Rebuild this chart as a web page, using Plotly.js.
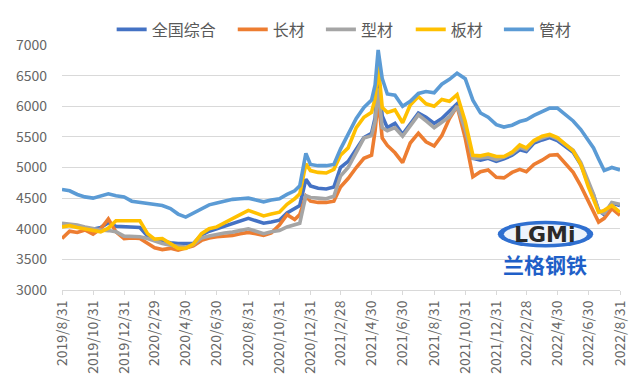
<!DOCTYPE html>
<html>
<head>
<meta charset="utf-8">
<script src="https://cdn.plot.ly/plotly-3.0.1.min.js"></script>
<style>
html,body{margin:0;padding:0;background:#fff;}
#chart{width:640px;height:389px;}
</style>
</head>
<body>
<div id="chart"></div>
<script>
const dates = [
'2019-08-31','2019-09-15','2019-09-30','2019-10-15','2019-10-31','2019-11-15','2019-11-30','2019-12-15','2019-12-31',
'2020-01-15','2020-01-31','2020-02-15','2020-02-29','2020-03-15','2020-03-31','2020-04-15','2020-04-30','2020-05-15','2020-05-31',
'2020-06-15','2020-06-30','2020-07-15','2020-07-31','2020-08-15','2020-08-31','2020-09-15','2020-09-30','2020-10-15','2020-10-31',
'2020-11-15','2020-11-30','2020-12-10','2020-12-22','2020-12-31',
'2021-01-15','2021-01-31','2021-02-15','2021-02-28','2021-03-15','2021-03-31','2021-04-15','2021-04-30','2021-05-07','2021-05-13','2021-05-21','2021-05-31',
'2021-06-15','2021-06-30','2021-07-15','2021-07-31','2021-08-15','2021-08-31','2021-09-15','2021-09-30','2021-10-15','2021-10-31',
'2021-11-15','2021-11-30','2021-12-15','2021-12-31',
'2022-01-15','2022-01-31','2022-02-15','2022-02-28','2022-03-15','2022-03-31','2022-04-15','2022-04-30','2022-05-15','2022-05-31',
'2022-06-15','2022-06-30','2022-07-10','2022-07-20','2022-07-31','2022-08-15','2022-08-31'
];

const zonghe = [4080,4060,4040,4020,3990,4020,4100,4040,4030,
4030,4020,3880,3820,3800,3770,3760,3760,3760,3900,
3960,4000,4040,4080,4120,4170,4130,4090,4110,4140,
4260,4330,4380,4810,4700,
4660,4650,4680,5000,5100,5300,5490,5560,5810,6530,5840,5650,
5720,5540,5700,5890,5820,5720,5800,5930,6040,5650,
5150,5120,5150,5100,
5140,5200,5290,5260,5400,5450,5490,5440,5340,5250,
5050,4720,4550,4300,4230,4420,4380];

const changcai = [3840,3960,3940,3980,3910,4000,4160,3950,3840,
3850,3840,3760,3690,3660,3680,3650,3680,3720,3810,
3850,3870,3880,3890,3920,3940,3920,3890,3930,4060,
4230,4150,4230,4530,4450,
4430,4430,4450,4680,4820,5000,5150,5200,5600,6120,5480,5360,
5240,5080,5400,5560,5420,5350,5520,5800,6000,5480,
4850,4930,4960,4840,
4830,4920,4970,4930,5050,5120,5200,5210,5080,4920,
4700,4450,4250,4110,4170,4330,4220];

const xingcai = [4090,4080,4060,4030,4000,3980,3970,3950,3880,
3870,3870,3840,3800,3760,3730,3710,3700,3740,3850,
3880,3910,3930,3945,3970,4000,3960,3920,3950,3970,
4030,4060,4090,4540,4510,
4500,4490,4530,4860,5000,5250,5480,5520,5750,6290,5650,5600,
5650,5510,5680,5860,5760,5650,5740,5830,6000,5620,
5150,5160,5170,5130,
5170,5230,5330,5290,5430,5480,5520,5470,5370,5280,
5080,4750,4560,4280,4250,4430,4400];

const bancai = [4030,4050,4020,4000,3980,3950,4010,4130,4130,
4130,4130,3920,3830,3840,3760,3680,3680,3750,3920,
4000,4030,4100,4170,4230,4300,4250,4210,4240,4270,
4400,4490,4570,5060,4950,
4920,4910,4970,5200,5320,5650,5820,5900,6130,6680,5980,5900,
5940,5730,6020,6160,6040,6000,6110,6080,6190,5750,
5200,5190,5220,5180,
5180,5250,5370,5320,5440,5510,5540,5490,5380,5270,
5050,4680,4480,4270,4300,4380,4270];

const guancai = [4640,4620,4560,4520,4500,4530,4570,4540,4520,
4450,4430,4420,4400,4380,4330,4240,4190,4250,4330,
4390,4420,4450,4480,4490,4500,4470,4440,4470,4490,
4560,4620,4700,5230,5050,
5030,5030,5050,5300,5550,5800,5980,6100,6350,6920,6450,6200,
6180,6000,6080,6210,6240,6220,6360,6440,6540,6450,
6100,5890,5820,5700,
5660,5690,5750,5780,5850,5910,5970,5970,5870,5760,
5620,5430,5320,5140,4950,5000,4960];

const seriesNames = ['全国综合','长材','型材','板材','管材'];
const seriesColors = ['#4472C4','#ED7D31','#A5A5A5','#FFC000','#5B9BD5'];
const seriesValues = [zonghe, changcai, xingcai, bancai, guancai];

const tickDates = ['2019-08-31','2019-10-31','2019-12-31','2020-02-29','2020-04-30','2020-06-30','2020-08-31','2020-10-31','2020-12-31',
'2021-02-28','2021-04-30','2021-06-30','2021-08-31','2021-10-31','2021-12-31','2022-02-28','2022-04-30','2022-06-30','2022-08-31'];
const tickLabels = ['2019/8/31','2019/10/31','2019/12/31','2020/2/29','2020/4/30','2020/6/30','2020/8/31','2020/10/31','2020/12/31',
'2021/2/28','2021/4/30','2021/6/30','2021/8/31','2021/10/31','2021/12/31','2022/2/28','2022/4/30','2022/6/30','2022/8/31'];

const FONT = '"Noto Sans CJK SC", "Noto Sans", sans-serif';
const legendIds = ['legend','legend2','legend3','legend4','legend5'];
const legendX = [0.089, 0.306, 0.464, 0.625, 0.783];

const traces = seriesNames.map((n, i) => ({
  type: 'scatter', mode: 'lines', name: n,
  x: dates, y: seriesValues[i],
  legend: legendIds[i],
  line: {color: seriesColors[i], width: 3.6}
}));

const layout = {
  width: 640, height: 389,
  margin: {l: 62, r: 20, t: 43, b: 99},
  paper_bgcolor: '#ffffff', plot_bgcolor: '#ffffff',
  font: {family: FONT, color: '#595959', size: 12},
  showlegend: true,
  xaxis: {
    type: 'date', range: ['2019-08-31', '2022-08-31'],
    tickmode: 'array', tickvals: tickDates, ticktext: tickLabels,
    tickangle: -90, tickfont: {size: 14, color: '#666666', family: FONT},
    showgrid: false, showline: true, linecolor: '#D9D9D9', linewidth: 1,
    ticks: 'outside', ticklen: 4, tickcolor: '#D9D9D9', zeroline: false
  },
  yaxis: {
    range: [3000, 7000], dtick: 500, tick0: 3000,
    showgrid: true, gridcolor: '#D9D9D9', gridwidth: 1,
    showline: false, zeroline: false, ticks: '',
    tickfont: {size: 14, color: '#666666', family: FONT},
    ticklabelstandoff: 14
  },
  shapes: [
    {type: 'circle', xref: 'paper', yref: 'paper', x0: 0.781, x1: 0.952, y0: 0.173, y1: 0.283,
     fillcolor: '#2f6fd0', line: {width: 0}, layer: 'above'},
    {type: 'circle', xref: 'paper', yref: 'paper', x0: 0.792, x1: 0.941, y0: 0.188, y1: 0.268,
     fillcolor: '#eef3fb', line: {width: 0}, layer: 'above'}
  ],
  annotations: [
    {xref: 'paper', yref: 'paper', x: 0.866, y: 0.228, text: '<b>LGMi</b>', showarrow: false,
     font: {size: 22, color: '#2a2a2a', family: 'DejaVu Sans'}, xanchor: 'center', yanchor: 'middle'},
    {xref: 'paper', yref: 'paper', x: 0.866, y: 0.105, text: '<b>兰格钢铁</b>', showarrow: false,
     font: {size: 21, color: '#1f5fc8', family: FONT}, xanchor: 'center', yanchor: 'middle'}
  ]
};

legendIds.forEach((id, i) => {
  layout[id] = {orientation: 'h', x: legendX[i], xanchor: 'left', y: 1.0635, yanchor: 'middle',
    font: {size: 16, color: '#595959', family: FONT}, bgcolor: 'rgba(0,0,0,0)'};
});

Plotly.newPlot('chart', traces, layout, {displayModeBar: false, staticPlot: true});
</script>
</body>
</html>
